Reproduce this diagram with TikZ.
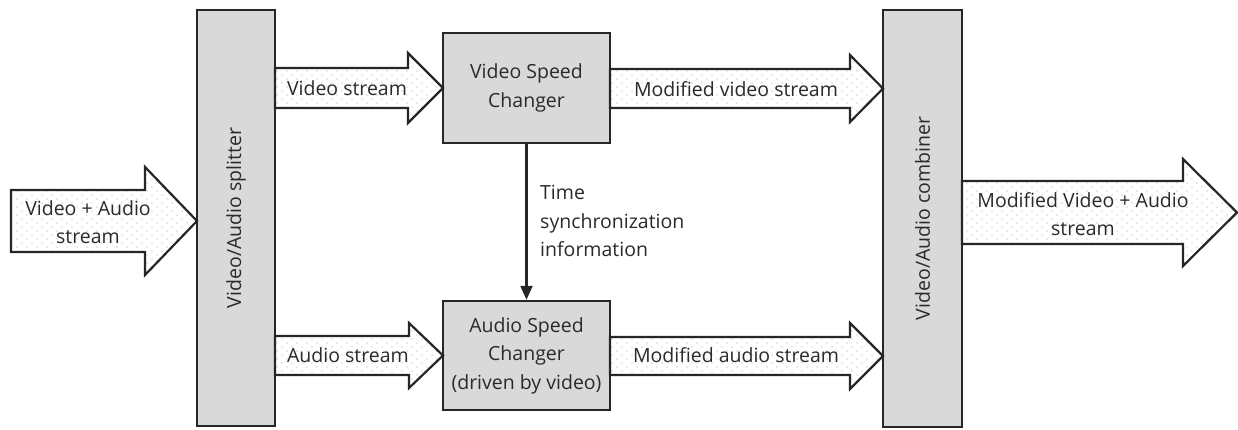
\documentclass[tikz,border=0pt]{standalone}
\usepackage{fontspec}
\setmainfont{Open Sans}
\usetikzlibrary{arrows.meta,patterns}
\pgfdeclarepatternformonly{mydots}{\pgfpoint{-1pt}{-1pt}}{\pgfpoint{11pt}{9pt}}{\pgfpoint{10pt}{8pt}}{%
  \pgfpathcircle{\pgfpoint{2pt}{2pt}}{0.7pt}%
  \pgfpathcircle{\pgfpoint{7pt}{6pt}}{0.7pt}%
  \pgfusepath{fill}}
\definecolor{boxgray}{HTML}{D9D9D9}
\definecolor{linec}{HTML}{262626}
\definecolor{textc}{HTML}{2A2A2A}
\definecolor{dotc}{HTML}{ABABAB}
\tikzset{
  blockbox/.style={draw=linec, line width=2.4pt, fill=boxgray, inner sep=0pt},
  flow/.style={draw=linec, line width=2.2pt, line join=miter, preaction={fill=white}, pattern=mydots, pattern color=dotc},
  lbl/.style={text=textc, font=\fontsize{19.5}{28.5}\selectfont, align=center, inner sep=0pt},
  sync/.style={draw=linec, line width=2.2pt, -{Triangle[width=12pt,length=14pt]}}
}
% block arrow: x-start, x-headback, x-tip, y-center, half shaft, half head
\newcommand{\blockarrow}[6]{%
  \path[flow] (#1,#4-#5) -- (#2,#4-#5) -- (#2,#4-#6) -- (#3,#4) -- (#2,#4+#6) -- (#2,#4+#5) -- (#1,#4+#5) -- cycle;}
\begin{document}
\begin{tikzpicture}[x=1pt,y=-1pt]
\useasboundingbox (0,0) rectangle (1238,429);

% main blocks
\node[blockbox, minimum width=78pt, minimum height=416pt] (split) at (236,218) {};
\node[blockbox, minimum width=79pt, minimum height=417pt] (comb) at (922.5,218.5) {};
\node[blockbox, minimum width=167pt, minimum height=110pt] (vsc) at (526.5,88) {};
\node[blockbox, minimum width=167pt, minimum height=109pt] (asc) at (526.5,355.5) {};

\node[lbl, rotate=90] (splitlbl) at (split.center) {Video/Audio splitter};
\node[lbl, rotate=90] (comblbl) at (comb.center) {Video/Audio combiner};
\node[lbl] (vsclbl) at (vsc.center) {Video Speed\\Changer};
\node[lbl] (asclbl) at (asc.center) {Audio Speed\\Changer\\(driven by video)};

% block arrows
\blockarrow{11}{145}{197}{221}{31}{54}
\blockarrow{275}{408}{443}{88}{20}{35}
\blockarrow{610}{850}{883}{88.5}{19.5}{33.5}
\blockarrow{275}{409}{443}{355.5}{19.5}{32.5}
\blockarrow{610}{850}{883}{356}{19}{33}
\blockarrow{962}{1183}{1237}{212.5}{31.5}{53.5}

\node[lbl] (inlbl) at (88,222) {Video + Audio\\stream};
\node[lbl] (vslbl) at (347,88) {Video stream};
\node[lbl] (mvslbl) at (736,89) {Modified video stream};
\node[lbl] (aslbl) at (348,355) {Audio stream};
\node[lbl] (maslbl) at (736,355) {Modified audio stream};
\node[lbl] (outlbl) at (1083,214) {Modified Video + Audio\\stream};

% sync connector
\draw[sync] (vsc.south) -- (asc.north);
\node[lbl, align=left, anchor=west] (synclbl) at (540,221) {Time\\synchronization\\information};
\end{tikzpicture}
\end{document}
